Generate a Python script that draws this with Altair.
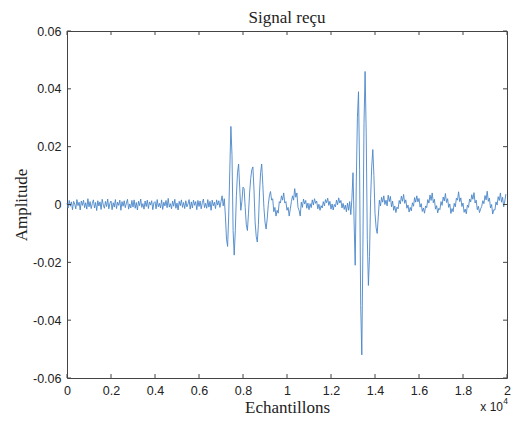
import altair as alt
import pandas as pd

# Amplitudes in thousandths (x 1e-3), one value every 50 samples
noise_start = [
    0.5, -1.2, 1.4, -0.6, 0.9, -1.8, 1.1, 0.2, -1.5, 1.7, -0.4, 0.8, -1.9, 1.2, -0.3, 1.5, -1.1, 0.6, -1.6, 2.0,
    -0.8, 1.0, -1.4, 0.3, 1.6, -1.2, 0.7, -2.1, 1.3, -0.5, 0.9, -1.7, 1.8, -0.2, -1.3, 1.1, -0.7, 1.9, -1.5, 0.4,
    1.2, -1.8, 0.6, -0.9, 1.7, -1.4, 0.8, -0.3, 1.5, -2.0, 1.0, -0.6, 1.3, -1.1, 0.5, 1.8, -1.6, 0.2, -1.2, 1.4,
    -0.9, 1.6, -1.3, 0.7, -1.9, 1.1, -0.4, 1.9, -1.0, 0.3, -1.6, 1.2, -0.7, 1.5, -1.4, 0.9, -0.2, 1.3, -1.8, 0.6,
    1.0, -1.5, 1.7, -0.8, 0.4, -1.2, 1.6, -1.7, 0.8, -0.5, 1.4, -1.1, 2.1, -0.9, 0.3, -1.5, 1.2, -0.6, 1.8, -1.3,
    0.5, -1.9, 1.1, -0.4, 1.6, -1.0, 0.7, -1.4, 1.3, -0.8, 0.2, 1.7, -1.6, 0.9, -1.2, 1.5, -0.3, 1.0, -1.8, 1.4,
    -0.7, 1.2, -1.5, 0.6, 1.9, -1.1, 0.4, -1.3, 1.7, -0.9, 1.1, -2.0, 1.5, -0.5, 0.8, -1.4, 1.6, -0.2, 1.3, -1.0,
]
burst_one = [
    1.0, 3.0, -0.5, 2.0, -4.0, -12.0, -14.5, -4.0, 12.0, 27.0,
    17.0, -9.0, -17.5, -9.0, 3.0, 11.0, 14.0, 6.0, -2.0, 1.0,
    6.0, 5.5, -1.0, -7.0, -9.0, -3.0, 4.0, 9.0, 12.0, 13.0,
    5.0, -6.0, -11.0, -13.0, -7.0, 4.0, 11.0, 14.0, 7.0, -1.0,
    -6.0, -8.5, -5.0, 0.0, 3.0, 4.5, 1.5, 2.0, -2.5, -1.0,
    -4.0, -2.0, -3.0, 1.0, 0.5, 3.0, 1.5, 4.0, 0.5, 1.0,
    -2.0, -1.0, -4.0, -1.5, 1.0, 3.0, 1.5, 5.5, 2.5, 4.0,
    -1.0, -2.0, -4.0,
]
between = [
    0.8, -1.0, 1.9, 0.2, 1.4, -1.3, 0.5, -1.8, 0.3, -1.1,
    1.6, -0.2, 2.0, 0.4, 1.2, -1.5, 0.1, -2.0, -0.4, -1.2,
    1.0, -0.5, 1.7, 0.6, 2.2, -0.3, 1.1, -1.6, 0.2, -1.9,
    0.0, -0.8, 1.5, -0.1, 2.3, 0.5, 1.4, -1.2, 0.4, -1.7,
    -0.2, -2.5,
]
burst_two = [
    0.5, -2.0, 1.0, -3.5, 2.0, 11.0, -6.0, -21.0, 8.0, 30.0,
    39.0, 12.0, -35.0, -52.0, -15.0, 28.0, 46.0, 25.0, -12.0, -28.0,
    -18.0, 2.0, 13.0, 19.0, 10.0, -3.0, -8.0, -10.0, -4.0, 1.5,
    -0.5, 2.5, 0.8, 3.0, 0.0,
]
tail = [
    1.5, -0.5, 3.2, 1.0, 2.8, -0.8, 1.2, -2.0, -0.5, -2.8,
    -0.9, -1.5, 1.4, 0.2, 2.9, 1.1, 3.5, 0.4, 1.6, -1.3,
    -0.2, -2.6, -1.0, -2.2, 0.6, -0.6, 2.4, 0.8, 3.0, 0.9,
    2.1, -0.9, 0.3, -2.4, -1.2, -3.0, -0.5, -1.1, 1.7, 0.5,
    3.3, 1.4, 4.0, 0.6, 1.8, -1.6, -0.4, -2.9, -1.3, -1.8,
    1.0, -0.3, 2.6, 1.2, 3.8, 0.7, 2.0, -1.0, 0.2, -3.1,
    -1.4, -2.5, 0.4, -0.8, 2.2, 1.5, 4.4, 1.0, 2.3, -0.7,
    0.5, -2.7, -1.6, -3.2, -0.2, -1.0, 1.9, 0.9, 3.4, 1.8,
    4.1, 0.5, 1.5, -1.8, -0.6, -2.8, -1.5, -0.7, 1.3, 0.3,
    3.1, 1.6, 4.6, 1.1, 2.2, -1.2, 0.0, -3.3, -1.8, -1.9,
    0.9, -0.2, 2.7, 1.4, 4.0, 0.8, 2.5, -0.8, 1.2, 3.6,
]

SAMPLE_STEP = 50
x_ticks = [0, 2000, 4000, 6000, 8000, 10000, 12000, 14000, 16000, 18000, 20000]
y_ticks = [-0.06, -0.04, -0.02, 0, 0.02, 0.04, 0.06]
title_text = ["Signal reçu"]

amp_milli = noise_start + burst_one + between + burst_two + tail
df = pd.DataFrame({
    "x": [i * SAMPLE_STEP for i in range(len(amp_milli))],
    "y": [v * 0.001 for v in amp_milli],
})

W, H = 440, 347
TXT = "#222222"
FRAME = "#444444"

xs = alt.Scale(domain=[0, 20000], nice=False, zero=False)
ys = alt.Scale(domain=[-0.06, 0.06], nice=False, zero=False)

xaxis = alt.Axis(values=x_ticks, labelExpr="'' + datum.value / 10000", title="Echantillons",
                 ticks=False, domain=False, grid=False, labelFlush=False, labelOverlap=False,
                 labelFont="Liberation Sans", labelFontSize=12.5, labelColor=TXT, labelPadding=6,
                 titleFont="Liberation Serif", titleFontSize=17, titleFontWeight="normal",
                 titleColor=TXT, titleBaseline="alphabetic", titleY=34)
yaxis = alt.Axis(values=y_ticks, labelExpr="'' + datum.value", title="Amplitude",
                 ticks=False, domain=False, grid=False, labelOverlap=False,
                 labelFont="Liberation Sans", labelFontSize=12.5, labelColor=TXT, labelPadding=6,
                 titleFont="Liberation Serif", titleFontSize=17, titleFontWeight="normal",
                 titleColor=TXT, titlePadding=2)

line = alt.Chart(df).mark_line(color="#4a86c8", strokeWidth=0.9).encode(
    x=alt.X("x:Q", scale=xs, axis=xaxis),
    y=alt.Y("y:Q", scale=ys, axis=yaxis),
)

xt = pd.DataFrame({"t": x_ticks})
yt = pd.DataFrame({"t": y_ticks})
TL = 4
tick_bottom = alt.Chart(xt).mark_rule(color=FRAME, strokeWidth=1).encode(
    x=alt.X("t:Q", scale=xs, axis=xaxis), y=alt.value(H), y2=alt.value(H - TL))
tick_top = alt.Chart(xt).mark_rule(color=FRAME, strokeWidth=1).encode(
    x=alt.X("t:Q", scale=xs, axis=xaxis), y=alt.value(0), y2=alt.value(TL))
tick_left = alt.Chart(yt).mark_rule(color=FRAME, strokeWidth=1).encode(
    y=alt.Y("t:Q", scale=ys, axis=yaxis), x=alt.value(0), x2=alt.value(TL))
tick_right = alt.Chart(yt).mark_rule(color=FRAME, strokeWidth=1).encode(
    y=alt.Y("t:Q", scale=ys, axis=yaxis), x=alt.value(W - TL), x2=alt.value(W))

title = alt.Chart(pd.DataFrame({"s": title_text})).mark_text(
    align="center", baseline="alphabetic", font="Liberation Serif", fontSize=17, color=TXT
).encode(x=alt.value(W / 2), y=alt.value(-8), text="s:N")

exp_base = alt.Chart(pd.DataFrame({"s": ["x 10"]})).mark_text(
    align="right", baseline="alphabetic", font="Liberation Sans", fontSize=12, color=TXT
).encode(x=alt.value(W - 4), y=alt.value(H + 33), text="s:N")
exp_pow = alt.Chart(pd.DataFrame({"s": ["4"]})).mark_text(
    align="right", baseline="alphabetic", font="Liberation Sans", fontSize=8.5, color=TXT
).encode(x=alt.value(W + 1), y=alt.value(H + 26), text="s:N")

chart = alt.layer(line, tick_bottom, tick_top, tick_left, tick_right, title, exp_base, exp_pow).properties(
    width=W, height=H,
    padding={"left": 59, "top": 23, "right": 4, "bottom": 39},
    autosize=alt.AutoSizeParams(type="none"),
).configure_view(stroke=FRAME, strokeWidth=1)

chart.save("out.html", embed_options={"renderer": "svg", "actions": False})
